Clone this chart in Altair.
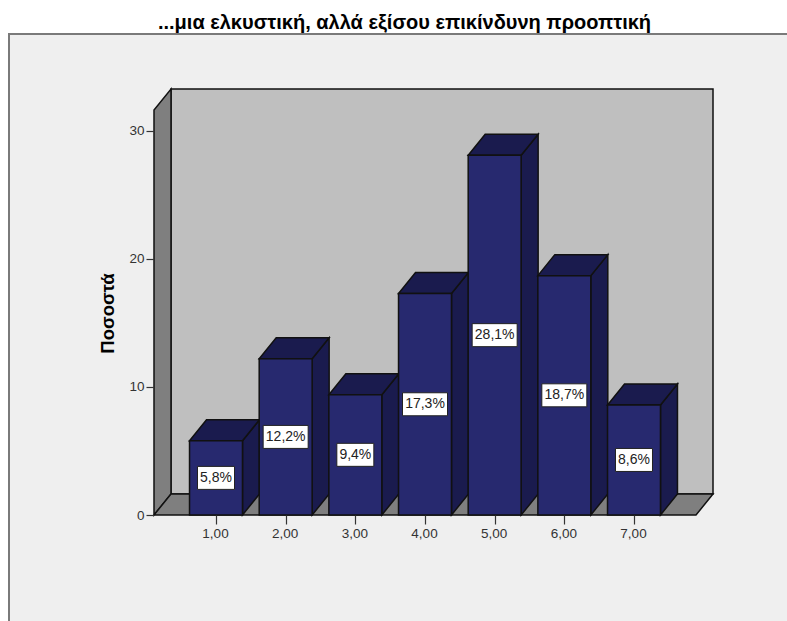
import altair as alt
import pandas as pd

title_text = "...μια ελκυστική, αλλά εξίσου επικίνδυνη προοπτική"
y_title = "Ποσοστά"
categories = [1, 2, 3, 4, 5, 6, 7]
percents = [5.8, 12.2, 9.4, 17.3, 28.1, 18.7, 8.6]
value_labels = ["5,8%", "12,2%", "9,4%", "17,3%", "28,1%", "18,7%", "8,6%"]
y_ticks = [0, 10, 20, 30]

# Axis extents and the oblique offset of the pseudo-3D box, in data units
X_MIN, X_MAX = 0.11, 8.134
Y_MIN, Y_MAX = 0.0, 33.28
DX, DY = 0.244, 1.64
HALF_BAR = 0.38

FONT = "Liberation Sans"
EDGE = "#111111"
FRONT = "#27296f"
SHADE = "#1a1b4e"
WALL = "#bfbfbf"
DARK_WALL = "#7f7f7f"
PANEL = "#efefef"

x_axis = alt.Axis(
    values=categories, domain=False, grid=False, ticks=True, tickSize=9, tickColor="#333333", tickWidth=1.2,
    labelFont=FONT, labelFontSize=13.5, labelColor="#333333", labelPadding=2, labelOffset=-1, zindex=1, title=None,
    labelExpr="replace(format(datum.value, '.2f'), '.', ',')",
)
y_axis = alt.Axis(
    values=y_ticks, domain=False, grid=False, ticks=True, tickSize=8, tickColor="#333333", tickWidth=1.2,
    labelFont=FONT, labelFontSize=13.5, labelColor="#333333", labelPadding=2, zindex=1, format="d",
    title=y_title, titleFont=FONT, titleFontSize=18.5, titleFontWeight="bold", titleColor="#000000",
    titleX=-37, titleY=224,
)


def xe(field):
    return alt.X(field, type="quantitative", scale=alt.Scale(domain=[X_MIN, X_MAX], nice=False, zero=False),
                 axis=x_axis)


def ye(field):
    return alt.Y(field, type="quantitative", scale=alt.Scale(domain=[Y_MIN, Y_MAX], nice=False, zero=False),
                 axis=y_axis)


def face_layer(rows, fill):
    return alt.Chart(pd.DataFrame(rows)).mark_area(
        orient="vertical", fill=fill, stroke=EDGE, strokeWidth=1.5, strokeJoin="miter"
    ).encode(x=xe("x"), y=ye("y0"), y2=alt.Y2("y1"), detail="k:N")


def strip(k, pts):
    return [{"k": k, "x": x, "y0": a, "y1": b} for x, a, b in pts]


wall_top = Y_MAX - DY

# Outer panel behind everything; it runs past the right and bottom edges of the page
panel = alt.Chart(pd.DataFrame({"a": [0]})).mark_rect(
    fill=PANEL, stroke="#7a7a7a", strokeWidth=2
).encode(x=alt.value(-145), x2=alt.value(700), y=alt.value(-55), y2=alt.value(600))

back_wall = alt.Chart(pd.DataFrame({"x": [X_MIN + DX], "x1": [X_MAX], "y": [DY], "y1": [Y_MAX]})).mark_rect(
    fill=WALL, stroke=EDGE, strokeWidth=1.5
).encode(x=xe("x"), x2="x1", y=ye("y"), y2="y1")

side_wall = face_layer(strip("side", [(X_MIN, 0, wall_top), (X_MIN + DX, DY, Y_MAX)]), DARK_WALL)
floor = face_layer(
    strip("floor", [(X_MIN, 0, 0), (X_MIN + DX, 0, DY), (X_MAX - DX, 0, DY), (X_MAX, DY, DY)]), DARK_WALL
)

# Right-hand and top faces of each bar
side_rows, top_rows = [], []
for c, v in zip(categories, percents):
    r = c + HALF_BAR
    l = c - HALF_BAR
    side_rows += strip(f"s{c}", [(r, 0, v), (r + DX, DY, v + DY)])
    top_rows += strip(f"t{c}", [(l, v, v), (l + DX, v, v + DY), (r, v, v + DY), (r + DX, v + DY, v + DY)])

sides = face_layer(side_rows, SHADE)
tops = face_layer(top_rows, SHADE)

bars_df = pd.DataFrame({
    "cat": categories,
    "pct": percents,
    "label": value_labels,
    "left": [c - HALF_BAR for c in categories],
    "right": [c + HALF_BAR for c in categories],
    "mid": [p / 2 for p in percents],
    "zero": [0] * len(categories),
})

fronts = alt.Chart(bars_df).mark_rect(fill=FRONT, stroke=EDGE, strokeWidth=1.5).encode(
    x=xe("left"), x2="right", y=ye("pct"), y2="zero",
)

# Value tags: wider boxes for the two-digit percentages
boxes = []
for n, w in ((4, 37), (5, 45)):
    boxes.append(
        alt.Chart(bars_df).transform_filter(f"length(datum.label) == {n}").mark_rect(
            width=w, height=23, fill="#ffffff", stroke="#222222", strokeWidth=1
        ).encode(x=xe("cat"), y=ye("mid"))
    )

texts = alt.Chart(bars_df).mark_text(
    font=FONT, fontSize=14, color="#222222", align="center", baseline="middle"
).encode(x=xe("cat"), y=ye("mid"), text="label:N")

chart = alt.layer(
    panel, back_wall, side_wall, floor, sides, tops, fronts, *boxes, texts
).properties(
    width=559,
    height=426,
    padding={"left": 154, "top": 89, "right": 74, "bottom": 106},
    autosize=alt.AutoSizeParams(type="none"),
    background="#ffffff",
    title=alt.TitleParams(
        title_text, font=FONT, fontSize=20, fontWeight="bold", color="#000000",
        anchor="middle", frame="group", dx=-29, dy=1, offset=1,
    ),
).configure_view(stroke=None)

chart.save("out.html", embed_options={"renderer": "svg", "actions": False})
